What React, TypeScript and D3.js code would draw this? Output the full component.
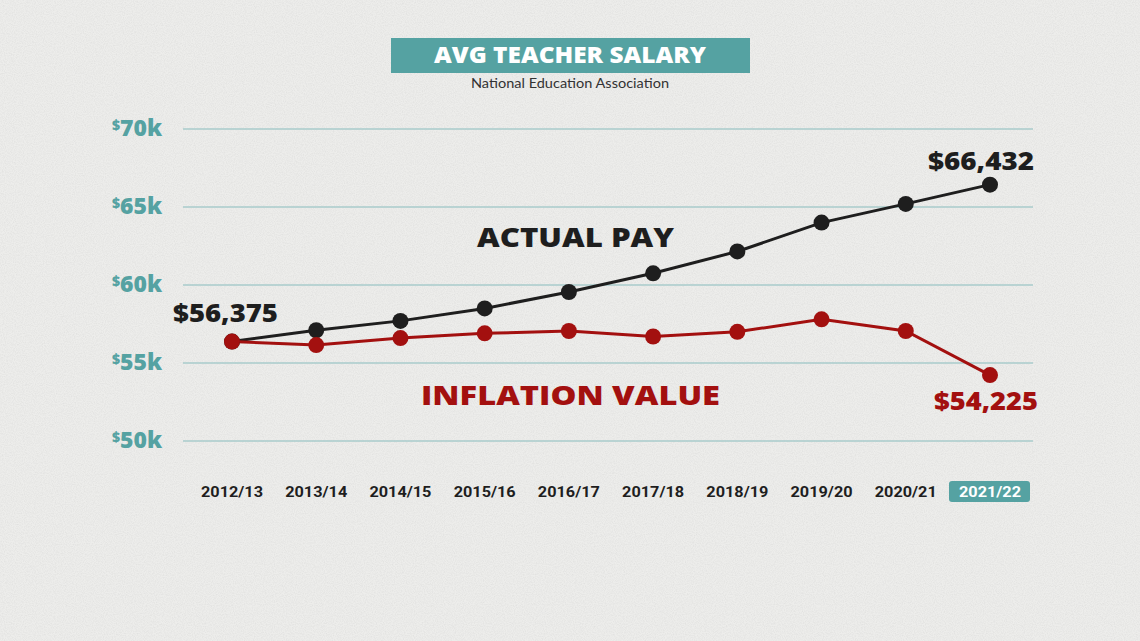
import React from "react";
import * as d3 from "d3";

const years = ["2012/13", "2013/14", "2014/15", "2015/16", "2016/17", "2017/18", "2018/19", "2019/20", "2020/21", "2021/22"];
const actualPay = [56375, 57100, 57700, 58500, 59550, 60750, 62150, 64000, 65200, 66432];
const inflationValue = [56375, 56150, 56600, 56900, 57050, 56700, 57000, 57800, 57050, 54225];
const yTicks = [50000, 55000, 60000, 65000, 70000];
const yTickLabels = ["50k", "55k", "60k", "65k", "70k"];

const W = 1140;
const H = 641;
const TEAL = "#55a2a2";
const RED = "#a3100f";
const BLACK = "#1e1e1e";
const FONT = "'Open Sans', Lato, sans-serif";

export default function App() {
  const x = d3.scalePoint<string>().domain(years).range([232, 990]);
  const y = d3.scaleLinear().domain([50000, 70000]).range([441, 129]);

  const line = d3
    .line<number>()
    .x((_, i) => x(years[i]) as number)
    .y((d) => y(d));

  const last = years.length - 1;

  return (
    <svg
      width={W}
      height={H}
      viewBox={`0 0 ${W} ${H}`}
      style={{ position: "absolute", left: 0, top: 0, display: "block" }}
    >
      <defs>
        <filter id="paper" x="0" y="0" width="100%" height="100%">
          <feTurbulence type="fractalNoise" baseFrequency="0.9" numOctaves="2" seed="3" result="n" />
          <feColorMatrix
            type="matrix"
            values="0 0 0 0 0.5  0 0 0 0 0.5  0 0 0 0 0.5  0 0 0 -1.6 1.05"
          />
        </filter>
      </defs>
      <rect x={0} y={0} width={W} height={H} fill="#ededeb" />
      <rect x={0} y={0} width={W} height={H} filter="url(#paper)" opacity={0.25} />

      {/* Title */}
      <rect x={391} y={38} width={359} height={35} fill={TEAL} />
      <text
        x={570}
        y={63}
        textAnchor="middle"
        fill="#ffffff"
        fontFamily={FONT}
        fontWeight={800}
        fontSize={23}
        textLength={272}
        lengthAdjust="spacingAndGlyphs"
      >
        AVG TEACHER SALARY
      </text>
      <text x={570} y={88} textAnchor="middle" fill="#333" fontFamily="Lato, sans-serif" fontSize={13} textLength={198} lengthAdjust="spacingAndGlyphs">
        National Education Association
      </text>

      {/* Grid + y labels */}
      {yTicks.map((t, i) => (
        <g key={t}>
          <line x1={183} x2={1033} y1={y(t)} y2={y(t)} stroke="#a8cbcb" strokeWidth={1.5} />
          <text x={112} y={y(t) + 7} fill={TEAL} fontFamily={FONT} fontWeight={800} fontSize={22}>
            <tspan fontSize={14} dy={-6}>$</tspan>
            <tspan dy={6} textLength={42} lengthAdjust="spacingAndGlyphs">{yTickLabels[i]}</tspan>
          </text>
        </g>
      ))}

      {/* X labels */}
      {years.map((yr, i) => {
        const cx = x(yr) as number;
        const hl = i === last;
        return (
          <g key={yr}>
            {hl && <rect x={cx - 41} y={481} width={81} height={21} rx={3} fill={TEAL} />}
            <text
              x={cx}
              y={497}
              textAnchor="middle"
              fill={hl ? "#ffffff" : BLACK}
              fontFamily="Roboto, sans-serif"
              fontWeight={700}
              fontSize={15}
              textLength={62}
              lengthAdjust="spacingAndGlyphs"
            >
              {yr}
            </text>
          </g>
        );
      })}

      {/* Lines */}
      <path d={line(actualPay) || ""} fill="none" stroke={BLACK} strokeWidth={3} />
      <path d={line(inflationValue) || ""} fill="none" stroke={RED} strokeWidth={3} />
      {actualPay.map((v, i) => (
        <circle key={"a" + i} cx={x(years[i]) as number} cy={y(v)} r={8} fill={BLACK} />
      ))}
      {inflationValue.map((v, i) => (
        <circle key={"r" + i} cx={x(years[i]) as number} cy={y(v)} r={8} fill={RED} />
      ))}

      {/* Annotations */}
      <text x={173} y={322} fill={BLACK} fontFamily={FONT} fontWeight={800} fontSize={25} textLength={105} lengthAdjust="spacingAndGlyphs">
        {"$" + d3.format(",")(actualPay[0])}
      </text>
      <text x={928} y={170} fill={BLACK} fontFamily={FONT} fontWeight={800} fontSize={25} textLength={106} lengthAdjust="spacingAndGlyphs">
        {"$" + d3.format(",")(actualPay[last])}
      </text>
      <text x={934} y={410} fill={RED} fontFamily={FONT} fontWeight={800} fontSize={25} textLength={104} lengthAdjust="spacingAndGlyphs">
        {"$" + d3.format(",")(inflationValue[last])}
      </text>
      <text x={477} y={247} fill={BLACK} fontFamily={FONT} fontWeight={800} fontSize={27} textLength={197} lengthAdjust="spacingAndGlyphs">
        ACTUAL PAY
      </text>
      <text x={421} y={405} fill={RED} fontFamily={FONT} fontWeight={800} fontSize={27} textLength={299} lengthAdjust="spacingAndGlyphs">
        INFLATION VALUE
      </text>
    </svg>
  );
}
